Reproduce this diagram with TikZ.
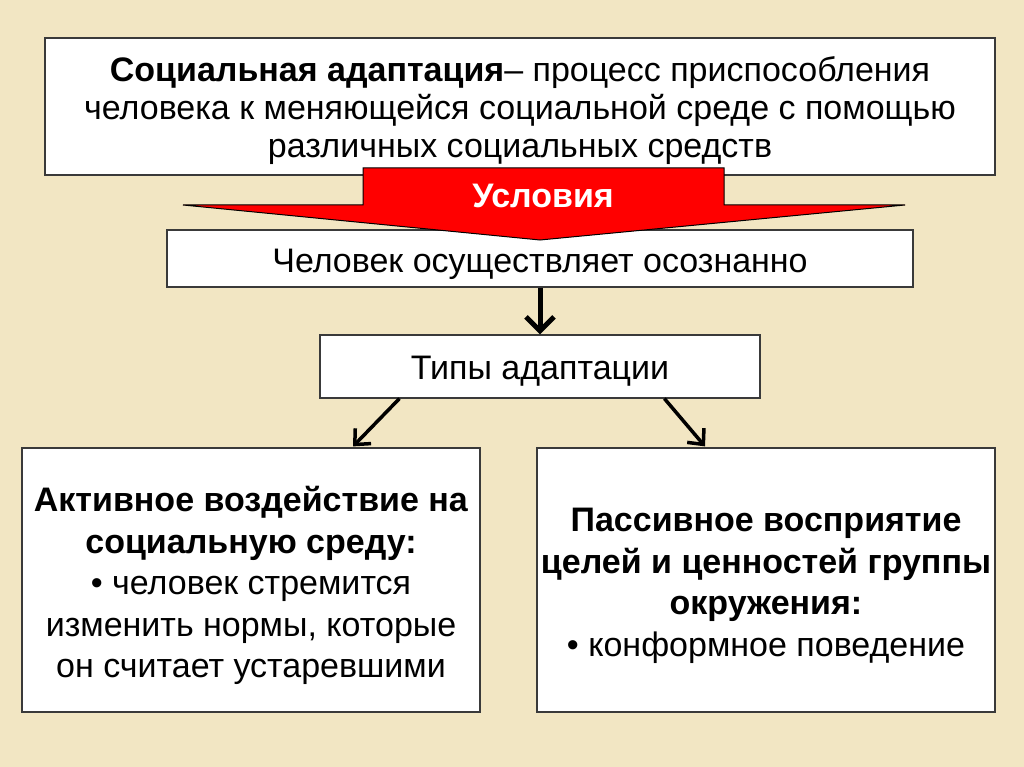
\documentclass[tikz,border=0pt]{standalone}
\usepackage{fontspec}
\setmainfont{Liberation Sans}
\usetikzlibrary{arrows.meta,calc}
\definecolor{parch}{HTML}{F2E6C3}
\definecolor{boxline}{HTML}{3A3A3A}
\tikzset{
  card/.style={draw=boxline, line width=1.2pt, fill=white, inner sep=0pt},
  txt/.style={align=center, inner sep=0pt},
  bigarrow/.style={line width=5pt, -{Straight Barb[length=14pt,width=28pt,line width=5pt]}},
  thinarrow/.style={line width=3.5pt, -{Straight Barb[length=12pt,width=22pt,line width=3.5pt]}},
}
\begin{document}
\begin{tikzpicture}[x=1pt,y=-1pt]
\useasboundingbox (0,0) rectangle (1024,767);
\fill[parch] (0,0) rectangle (1024,767);

\node[card, minimum width=950pt, minimum height=137pt] (def) at (520,106.5) {};
\node[txt, font=\fontsize{34}{38}\selectfont] (defT) at (520,111)
 {\textbf{Социальная адаптация}– процесс приспособления\\человека к меняющейся социальной среде с помощью\\различных социальных средств};

\node[card, minimum width=746pt, minimum height=57pt] (chel) at (540,258.5) {};
\node[txt, font=\fontsize{34}{38}\selectfont] (chelT) at (540,264.5) {Человек осуществляет осознанно};

\node[card, minimum width=440pt, minimum height=63pt] (tipy) at (540,366.5) {};
\node[txt, font=\fontsize{34}{38}\selectfont] (tipyT) at (540,371.5) {Типы адаптации};

\node[card, minimum width=458pt, minimum height=264pt] (act) at (251,580) {};
\node[txt, font=\fontsize{34}{41.5}\selectfont] (actT) at (251,585.5)
 {\textbf{Активное воздействие на}\\\textbf{социальную среду:}\\• человек стремится\\изменить нормы, которые\\он считает устаревшими};

\node[card, minimum width=458pt, minimum height=264pt] (pas) at (766,580) {};
\node[txt, font=\fontsize{34}{41.5}\selectfont] (pasT) at (766,586)
 {\textbf{Пассивное восприятие}\\\textbf{целей и ценностей группы}\\\textbf{окружения:}\\• конформное поведение};

% red block arrow
\draw[fill=red, draw=black, line width=1pt]
  (363,168) -- (724,168) -- (724,205) -- (905,205) -- (540,240) -- (183,205) -- (363,205) -- cycle;
\node[text=white, font=\bfseries\fontsize{34}{38}\selectfont] (usl) at (543,196) {Условия};

% connectors
\draw[bigarrow] (chel.south) -- (tipy.north);
\draw[thinarrow] ($(tipy.south west)+(80,0)$) -- ($(act.north)+(102,-1)$);
\draw[thinarrow] ($(tipy.south west)+(345,0)$) -- ($(pas.north)+(-61,-1)$);
\end{tikzpicture}
\end{document}
